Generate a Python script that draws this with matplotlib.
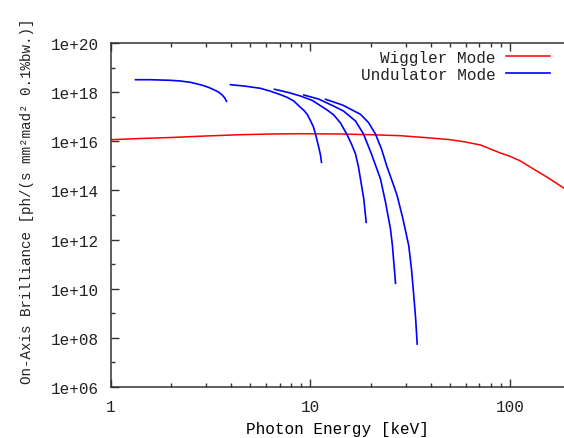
import numpy as np
import matplotlib
matplotlib.use("Agg")
import matplotlib.pyplot as plt
from matplotlib.ticker import FixedLocator, FuncFormatter, NullFormatter

# Wiggler mode: photon energy [keV] and log10 of on-axis brilliance
wig_E = [1.0, 1.41, 2.0, 2.985, 4.47, 6.31, 8.91, 14.13, 19.95, 28.18, 39.8,
         50.1, 59.6, 70.8, 89.1, 100, 112.2, 130.3, 154.9, 186.2]
wig_logB = [16.064, 16.113, 16.154, 16.215, 16.268, 16.296, 16.308, 16.296,
            16.268, 16.227, 16.135, 16.064, 15.971, 15.849, 15.523, 15.381,
            15.197, 14.872, 14.505, 14.078]

# Undulator mode: one curve per harmonic
und_E = [
    [1.334, 1.585, 1.995, 2.239, 2.512, 2.723, 2.928, 3.108, 3.285, 3.467,
     3.618, 3.729, 3.802],
    [3.98, 4.73, 5.62, 6.31, 7.08, 7.67, 8.25, 8.91, 9.28, 9.63, 10.0, 10.35,
     10.59, 11.0, 11.22, 11.35],
    [6.61, 7.76, 8.91, 10.23, 11.22, 12.12, 13.08, 14.13, 15.26, 16.03, 16.79,
     17.38, 17.78, 18.47, 18.99],
    [9.26, 10.96, 13.03, 14.62, 16.79, 18.41, 20.18, 22.39, 23.71, 25.12,
     25.70, 26.09, 26.40, 26.61],
    [11.89, 14.45, 17.78, 19.5, 21.13, 22.65, 24.18, 25.70, 27.13, 29.0,
     31.0, 31.99, 32.85, 33.57, 34.16],
]
und_logB = [
    [18.506, 18.506, 18.481, 18.453, 18.400, 18.331, 18.262, 18.188, 18.099,
     18.006, 17.884, 17.761, 17.627],
    [18.303, 18.242, 18.156, 18.038, 17.896, 17.782, 17.639, 17.383, 17.253,
     17.098, 16.838, 16.581, 16.296, 15.755, 15.442, 15.145],
    [18.116, 17.985, 17.843, 17.660, 17.448, 17.273, 17.070, 16.744, 16.256,
     15.889, 15.482, 14.953, 14.465, 13.651, 12.702],
    [17.884, 17.721, 17.436, 17.232, 16.825, 16.296, 15.482, 14.465, 13.529,
     12.430, 11.738, 11.075, 10.598, 10.220],
    [17.709, 17.477, 17.098, 16.764, 16.296, 15.686, 14.941, 14.343, 13.785,
     12.837, 11.750, 10.802, 9.716, 8.767, 7.749],
]

y_ticks = [1e6, 1e8, 1e10, 1e12, 1e14, 1e16, 1e18, 1e20]
x_ticks = [1, 10, 100]

plt.rcParams['font.family'] = ['Liberation Mono', 'DejaVu Sans Mono']
plt.rcParams['font.size'] = 11.5
plt.rcParams['text.color'] = '#222222'
plt.rcParams['xtick.color'] = '#222222'
plt.rcParams['ytick.color'] = '#222222'

fig = plt.figure(figsize=(5.64, 4.39), dpi=100)
ax = fig.add_axes([110.5 / 564, 51 / 439, 1 - 110.5 / 564, 344 / 439])

ax.plot(wig_E, 10 ** np.array(wig_logB), color='#ff0000', lw=1.1,
        label='Wiggler Mode')
for i, (e, lb) in enumerate(zip(und_E, und_logB)):
    ax.plot(e, 10 ** np.array(lb), color='#0000ff', lw=1.2,
            label='Undulator Mode' if i == 0 else None)

ax.set_xscale('log')
ax.set_yscale('log')
ax.set_xlim(1, 185.2)
ax.set_ylim(1e6, 1e20)

ax.yaxis.set_major_locator(FixedLocator(y_ticks))
ax.yaxis.set_minor_locator(FixedLocator([10 * v for v in y_ticks[:-1]]))
ax.yaxis.set_major_formatter(FuncFormatter(lambda v, _: f"{v:.0e}"))
ax.yaxis.set_minor_formatter(NullFormatter())
ax.xaxis.set_major_locator(FixedLocator(x_ticks))
ax.xaxis.set_minor_locator(FixedLocator([m * d for d in (1, 10, 100) for m in range(2, 10)]))
ax.xaxis.set_major_formatter(FuncFormatter(lambda v, _: f"{v:g}"))
ax.xaxis.set_minor_formatter(NullFormatter())

ax.tick_params(which='both', direction='in', top=True, right=False,
               color='#333333', width=1.0)
ax.tick_params(which='major', length=6)
ax.tick_params(which='minor', length=3)
ax.tick_params(axis='y', which='major', pad=8)
ax.tick_params(axis='x', which='major', pad=9)
for s in ('left', 'bottom', 'top'):
    ax.spines[s].set_color('#333333')
    ax.spines[s].set_linewidth(1.1)
ax.spines['right'].set_visible(False)

ax.set_xlabel('Photon Energy [keV]', labelpad=5)
fig.text(27 / 564, 1 - 201 / 439,
         'On-Axis Brilliance [ph/(s mm²mad² 0.1%bw.)]',
         rotation=90, ha='center', va='center', fontsize=10.3)

ax.legend(loc='upper right', bbox_to_anchor=(550 / 564, 1 - 51 / 439),
          bbox_transform=fig.transFigure, frameon=False, markerfirst=False,
          borderpad=0, borderaxespad=0, handlelength=2.75, handletextpad=0.67,
          labelspacing=0.12)

fig.savefig('out.png', dpi=100)
